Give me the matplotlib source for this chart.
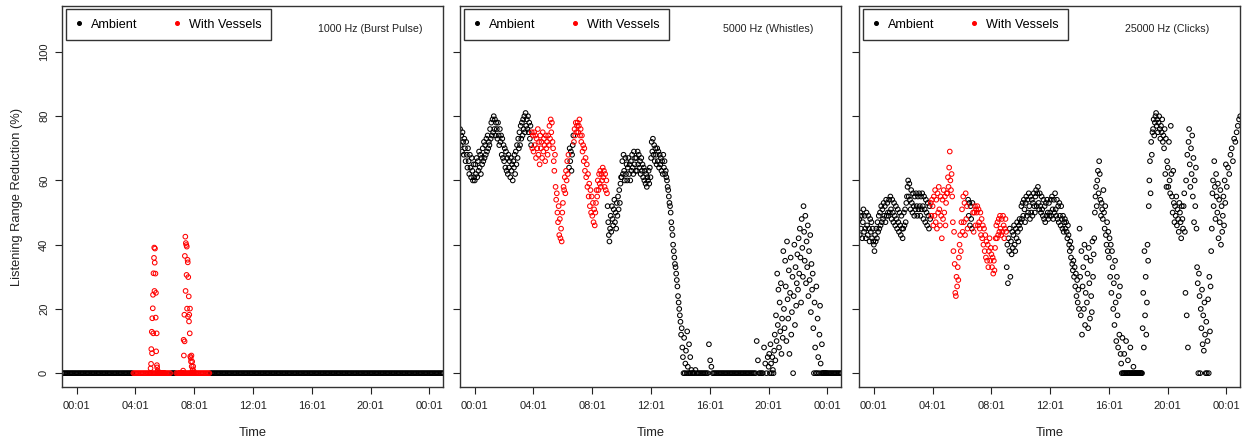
import numpy as np
import matplotlib.pyplot as plt
from matplotlib.lines import Line2D

plt.rcParams['font.family'] = ['Liberation Sans', 'DejaVu Sans']

# each block of readings covers one clock hour (-1 = 23:00 the day before),
# the readings inside a block are spread evenly over that hour
hours = list(range(-1, 25))

# vessels present (hours), same recording for all three bands
vessel_periods = [(3.87, 6.4), (6.75, 9.05)]

panel_titles = ['1000 Hz (Burst Pulse)', '5000 Hz (Whistles)', '25000 Hz (Clicks)']
tick_hours = [0, 4, 8, 12, 16, 20, 24]
tick_labels = ['00:01', '04:01', '08:01', '12:01', '16:01', '20:01', '00:01']
y_ticks = [0, 20, 40, 60, 80, 100]

# ---------------- 1000 Hz: flat at zero apart from two short bursts ----------------
zero_hour = [0] * 12
burst_0500 = ([0, 0] +
              [1.5, 0, 2.9, 7.5, 0, 12.9, 6.2, 17.1, 0, 20.2, 24.4, 12.4, 31.1, 0, 35.9,
               39.1, 25.6, 34.4, 38.8, 0, 31.0, 17.3, 25.0, 6.8, 0, 12.4, 2.5, 1.8, 0, 0.8] +
              [0] * 28)
burst_0700 = ([0] * 15 +
              [0.8, 0, 10.4, 5.5, 0, 18.2, 9.9, 36.5, 0, 42.5, 25.6, 40.5, 0, 39.9, 30.6,
               39.4, 20.1, 0, 35.3, 34.5, 17.6, 29.9, 0, 23.9, 16.1, 18.2, 0, 12.4, 20.1, 5.2,
               0, 4.7, 3.6, 0, 5.5, 2.1, 0, 3.6, 0, 1.2, 0, 2.1, 0, 0.6, 0])
rr_1000 = [zero_hour] * 6 + [burst_0500, zero_hour, burst_0700] + [zero_hour] * 17

# ---------------- 5000 Hz ----------------
rr_5000 = [
    [76, 71, 74, 69, 75, 72, 68, 73, 70, 66, 72, 68, 64, 70, 66, 62, 68, 64, 61, 67, 63, 60, 65, 61],
    [60, 65, 62, 67, 61, 66, 63, 69, 64, 68, 62, 67, 65, 70, 66, 72, 67, 71, 68, 73, 69, 74, 70, 72],
    [71, 76, 73, 78, 74, 79, 75, 80, 76, 79, 74, 78, 76, 73, 78, 74, 71, 76, 72, 74, 68, 73, 67, 71],
    [66, 70, 64, 69, 63, 67, 62, 68, 64, 66, 61, 67, 63, 65, 60, 66, 64, 68, 62, 69, 65, 71, 67, 73],
    [70, 75, 71, 77, 73, 78, 74, 79, 76, 80, 75, 81, 77, 79, 76, 80, 75, 78, 73, 77, 71, 75, 70, 74],
    [69, 75, 71, 74, 67, 73, 70, 76, 68, 72, 65, 74, 70, 72, 67, 75, 69, 73, 71, 66, 74, 70, 72, 68],
    [74, 71, 77, 73, 79, 75, 78, 72, 70, 66, 63, 68, 58, 54, 56, 50, 47, 52, 43, 48, 42, 45, 41, 50],
    [53, 58, 57, 61, 56, 63, 60, 66, 62, 68, 64, 70, 66, 69, 63, 68, 71, 74, 72, 76, 74, 78, 75, 77],
    [78, 75, 77, 79, 74, 76, 72, 74, 69, 71, 66, 70, 63, 67, 61, 65, 58, 62, 55, 59, 52, 57, 50, 55],
    [49, 53, 47, 51, 46, 50, 53, 57, 55, 60, 57, 62, 59, 63, 58, 62, 60, 64, 61, 63, 58, 62, 57, 60],
    [56, 52, 47, 43, 41, 45, 49, 44, 52, 48, 46, 51, 54, 47, 50, 45, 53, 49, 55, 51, 57, 53, 59, 61],
    [61, 66, 62, 68, 63, 60, 67, 62, 65, 60, 64, 67, 62, 65, 60, 66, 63, 68, 64, 62, 69, 65, 67, 63],
    [67, 63, 69, 65, 68, 64, 66, 62, 67, 63, 65, 61, 64, 60, 63, 59, 62, 58, 61, 60, 63, 59, 64, 61],
    [67, 72, 69, 73, 68, 71, 66, 70, 68, 65, 70, 66, 69, 64, 68, 65, 67, 63, 66, 62, 68, 64, 66, 62],
    [63, 61, 60, 58, 57, 55, 53, 52, 50, 47, 45, 43, 40, 38, 36, 34, 33, 31, 29, 27, 24, 22, 20, 18],
    [16, 12, 14, 8, 5, 0, 11, 0, 3, 7, 0, 13, 2, 0, 9, 0, 5, 0, 1, 0, 0, 0, 0, 0],
    [1, 0, 0, 0, 0, 0, 0, 0, 0, 0, 0, 9],
    [4, 2, 0, 0, 0, 0, 0, 0, 0, 0, 0, 0],
    [0, 0, 0, 0, 0, 0, 0, 0, 0, 0, 0, 0],
    [0, 0, 0, 0, 0, 0, 0, 0, 0, 0, 0, 0],
    [0, 0, 10, 4, 0, 0, 0, 0, 8, 3, 0, 5],
    [2, 6, 0, 9, 3, 0, 5, 1, 0, 7, 12, 4, 18, 10, 31, 15, 26, 8, 22, 13, 28, 6, 17, 11],
    [38, 20, 14, 35, 27, 10, 41, 23, 17, 32, 6, 25, 36, 12, 19, 30, 0, 24, 40, 15, 33, 21, 28, 37],
    [26, 42, 31, 45, 36, 22, 48, 39, 30, 52, 44, 35, 49, 28, 41, 33, 46, 24, 38, 29, 43, 19, 34, 26],
    [31, 14, 0, 22, 8, 0, 27, 0, 17, 5, 0, 12, 21, 3, 0, 9, 0, 0, 0, 0, 0, 0, 0, 0],
    [0, 0, 0, 0, 0, 0, 0, 0, 0, 0, 0, 0],
]

# ---------------- 25000 Hz ----------------
rr_25000 = [
    [48, 43, 50, 45, 49, 42, 47, 51, 44, 49, 45, 42, 50, 46, 43, 49, 45, 41, 48, 44, 47, 42, 45, 41],
    [40, 38, 43, 41, 45, 42, 47, 44, 49, 45, 50, 46, 52, 47, 51, 48, 53, 49, 52, 47, 54, 49, 53, 50],
    [49, 54, 50, 55, 51, 48, 54, 50, 47, 53, 49, 46, 52, 48, 45, 51, 47, 44, 50, 46, 43, 49, 45, 42],
    [45, 50, 46, 51, 47, 53, 55, 58, 60, 55, 59, 54, 51, 57, 53, 50, 56, 52, 49, 55, 51, 56, 52, 49],
    [55, 51, 56, 52, 49, 55, 51, 56, 52, 48, 55, 51, 47, 54, 50, 46, 53, 49, 45, 52, 48, 53, 49, 54],
    [52, 46, 55, 49, 57, 47, 54, 45, 56, 50, 58, 51, 46, 55, 49, 42, 54, 48, 57, 50, 55, 46, 53, 56],
    [56, 61, 58, 64, 69, 60, 57, 62, 55, 47, 38, 44, 34, 25, 24, 30, 27, 33, 29, 36, 40, 43, 38, 47],
    [51, 44, 55, 47, 53, 43, 56, 48, 52, 45, 54, 49, 53, 46, 52, 48, 45, 53, 50, 44, 50, 52, 46, 51],
    [50, 52, 46, 51, 47, 45, 50, 43, 48, 42, 46, 40, 45, 38, 43, 36, 41, 35, 40, 33, 38, 42, 35, 39],
    [37, 33, 36, 31, 35, 32, 39, 42, 46, 42, 47, 43, 48, 44, 49, 45, 43, 48, 44, 49, 46, 42, 45, 48],
    [44, 33, 40, 28, 42, 38, 45, 30, 41, 37, 44, 39, 43, 46, 40, 38, 45, 42, 47, 44, 41, 46, 48, 45],
    [47, 52, 48, 53, 49, 54, 51, 47, 53, 55, 49, 54, 50, 56, 52, 48, 55, 50, 54, 49, 53, 56, 52, 50],
    [55, 57, 52, 56, 58, 53, 51, 56, 52, 50, 55, 51, 49, 54, 48, 52, 47, 53, 49, 54, 50, 48, 53, 49],
    [50, 54, 49, 55, 51, 48, 54, 50, 56, 51, 49, 54, 48, 52, 47, 53, 49, 46, 52, 48, 45, 49, 44, 47],
    [48, 45, 47, 44, 42, 46, 43, 40, 38, 41, 36, 39, 34, 32, 35, 30, 33, 27, 31, 24, 29, 22, 26, 20],
    [45, 30, 18, 38, 12, 27, 33, 20, 40, 15, 25, 36, 22, 31, 14, 39, 28, 17, 35, 24, 19, 41, 30, 37],
    [42, 50, 55, 58, 52, 60, 63, 56, 66, 62, 54, 49, 53, 51, 48, 57, 50, 45, 52, 43, 40, 47, 38, 44],
    [36, 42, 30, 40, 25, 38, 33, 20, 28, 15, 35, 22, 10, 30, 18, 8, 24, 12, 27, 6, 3, 0, 11, 0],
    [0, 6, 0, 0, 10, 0, 0, 4, 0, 0, 0, 8, 0, 0, 0, 0, 2, 0, 0, 0, 0, 0, 0, 0],
    [0, 0, 0, 0, 0, 0, 0, 14, 25, 8, 38, 18, 30, 12, 22, 40, 35, 52, 60, 66, 56, 72, 68, 75],
    [76, 79, 74, 78, 80, 81, 77, 79, 75, 78, 80, 76, 73, 77, 75, 79, 72, 74, 70, 76, 62, 73, 58, 66],
    [64, 58, 72, 60, 56, 77, 62, 55, 50, 63, 53, 47, 52, 49, 55, 46, 51, 48, 44, 53, 50, 47, 42, 52],
    [48, 45, 52, 56, 44, 25, 60, 18, 68, 8, 72, 76, 65, 58, 70, 62, 74, 55, 67, 47, 60, 52, 64, 45],
    [33, 28, 0, 31, 24, 0, 20, 14, 26, 9, 18, 7, 22, 12, 0, 16, 0, 10, 23, 0, 30, 13, 27, 38],
    [45, 56, 60, 52, 66, 58, 48, 62, 55, 50, 59, 42, 54, 47, 57, 40, 52, 44, 49, 55, 46, 60, 53, 65],
    [58, 64, 62, 68, 70, 66, 73, 72, 75, 77, 79, 80],
]

series = [rr_1000, rr_5000, rr_25000]


def expand(blocks):
    t, v = [], []
    for h, vals in zip(hours, blocks):
        n = len(vals)
        t.extend(h + (np.arange(n) + 0.5) / n)
        v.extend(vals)
    return np.array(t), np.array(v, dtype=float)


fig = plt.figure(figsize=(12.46, 4.46), dpi=100)
lefts = [0.0500, 0.3694, 0.6897]
width, bottom, height = 0.3056, 0.1316, 0.8556
ink = '#222222'

for i, (blocks, title) in enumerate(zip(series, panel_titles)):
    ax = fig.add_axes([lefts[i], bottom, width, height])
    t, v = expand(blocks)
    ves = np.zeros(len(t), dtype=bool)
    for a, b in vessel_periods:
        ves |= (t >= a) & (t < b)

    ax.scatter(t[~ves], v[~ves], s=11, facecolors='none', edgecolors='black', linewidths=0.75)
    ax.scatter(t[ves], v[ves], s=11, facecolors='none', edgecolors='red', linewidths=0.75)

    ax.set_xlim(-0.965, 24.95)
    ax.set_ylim(-4.4, 114.4)
    ax.set_xticks([h + 1 / 60 for h in tick_hours])
    ax.set_xticklabels(tick_labels)
    ax.set_yticks(y_ticks)
    ax.tick_params(direction='out', length=5, width=0.8, colors=ink, labelsize=8, pad=5)
    if i == 0:
        ax.set_yticklabels([str(y) for y in y_ticks], rotation=90, va='center')
        ax.tick_params(axis='y', pad=4.5)
        ax.set_ylabel('Listening Range Reduction (%)', fontsize=9.3, color=ink)
        ax.yaxis.set_label_coords(-0.102, 0.5)
    else:
        ax.tick_params(axis='y', labelleft=False)
    ax.set_xlabel('Time', fontsize=9.3, color=ink)
    ax.xaxis.set_label_coords(0.5, -0.103)
    for sp in ax.spines.values():
        sp.set_color('#333333')
        sp.set_linewidth(1.0)

    handles = [Line2D([], [], ls='none', marker='o', ms=2.6, color=c) for c in ('black', 'red')]
    leg = ax.legend(handles, ['Ambient', 'With Vessels'], ncol=2, loc='upper left',
                    bbox_to_anchor=(0.0097, 0.9913), borderaxespad=0, fontsize=9.1,
                    handlelength=0.5, handletextpad=0.7, columnspacing=2.9, borderpad=0.75,
                    fancybox=False, edgecolor='#333333', framealpha=1)
    leg.get_frame().set_linewidth(1.0)

    ax.text(0.808, 0.938, title, transform=ax.transAxes, ha='center', va='center',
            fontsize=7.7, color=ink)

fig.savefig('out.png', dpi=100)
